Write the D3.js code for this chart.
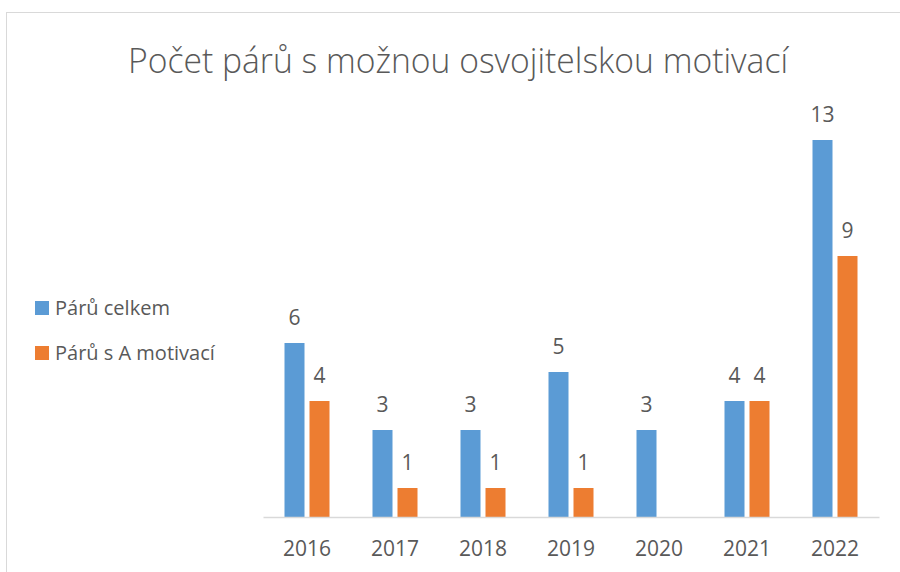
<!DOCTYPE html>
<html>
<head>
<meta charset="utf-8">
<script src="https://cdn.jsdelivr.net/npm/d3@7"></script>
<style>
  body { margin: 0; background: #fff; }
  text { font-family: "Open Sans", "Liberation Sans", sans-serif; fill: #595959; }
</style>
</head>
<body>
<svg id="chart" width="900" height="572"></svg>
<script>
// data
const years = ["2016", "2017", "2018", "2019", "2020", "2021", "2022"];
const seriesNames = ["Párů celkem", "Párů s A motivací"];
const celkem = [6, 3, 3, 5, 3, 4, 13];
const motivaci = [4, 1, 1, 1, null, 4, 9];
const colors = ["#5B9BD5", "#ED7D31"];

const svg = d3.select("#chart");

// chart border
svg.append("rect")
    .attr("x", 6.5).attr("y", 12.5)
    .attr("width", 900).attr("height", 600)
    .attr("fill", "none")
    .attr("stroke", "#D9D9D9");

// title
svg.append("text")
    .attr("x", 458).attr("y", 73)
    .attr("text-anchor", "middle")
    .style("font-size", "35px")
    .style("font-weight", 300)
    .attr("textLength", 660)
    .attr("lengthAdjust", "spacingAndGlyphs")
    .text("Počet párů s možnou osvojitelskou motivací");

const x0 = d3.scaleBand().domain(years).range([263, 879]).paddingInner(0.4886).paddingOuter(0.2443);
const x1 = d3.scaleBand().domain(seriesNames).range([0, x0.bandwidth()]).paddingInner(0.2);
const y = d3.scaleLinear().domain([0, 14]).range([517, 111]);

const rows = years.map((yr, i) => ({ year: yr, vals: [celkem[i], motivaci[i]] }));

const groups = svg.selectAll("g.grp").data(rows).join("g")
    .attr("class", "grp")
    .attr("transform", d => "translate(" + x0(d.year) + ",0)");

groups.selectAll("rect").data(d => d.vals.map((v, j) => ({ v: v, s: seriesNames[j], j: j })).filter(e => e.v != null))
    .join("rect")
    .attr("x", e => x1(e.s))
    .attr("y", e => y(e.v))
    .attr("width", x1.bandwidth())
    .attr("height", e => y(0) - y(e.v))
    .attr("fill", e => colors[e.j]);

groups.selectAll("text.val").data(d => d.vals.map((v, j) => ({ v: v, s: seriesNames[j] })).filter(e => e.v != null))
    .join("text")
    .attr("class", "val")
    .attr("x", e => x1(e.s) + x1.bandwidth() / 2)
    .attr("y", e => y(e.v) - 18)
    .attr("text-anchor", "middle")
    .style("font-size", "21px")
    .text(e => e.v);

// x axis
const xAxis = svg.append("g")
    .attr("transform", "translate(0,517)")
    .call(d3.axisBottom(x0).tickSize(0).tickPadding(0));
xAxis.select(".domain").attr("stroke", "#D9D9D9").attr("stroke-width", 1.5);
xAxis.selectAll("text")
    .attr("dy", 0).attr("y", 39)
    .style("font-size", "21px")
    .style("font-family", "'Open Sans', sans-serif")
    .attr("fill", "#595959");

// legend
const legend = svg.append("g");
seriesNames.forEach((name, i) => {
    legend.append("rect")
        .attr("x", 35).attr("y", 301 + i * 45)
        .attr("width", 14).attr("height", 14)
        .attr("fill", colors[i]);
    legend.append("text")
        .attr("x", 55).attr("y", 315 + i * 45)
        .style("font-size", "20px")
        .text(name);
});
</script>
</body>
</html>
